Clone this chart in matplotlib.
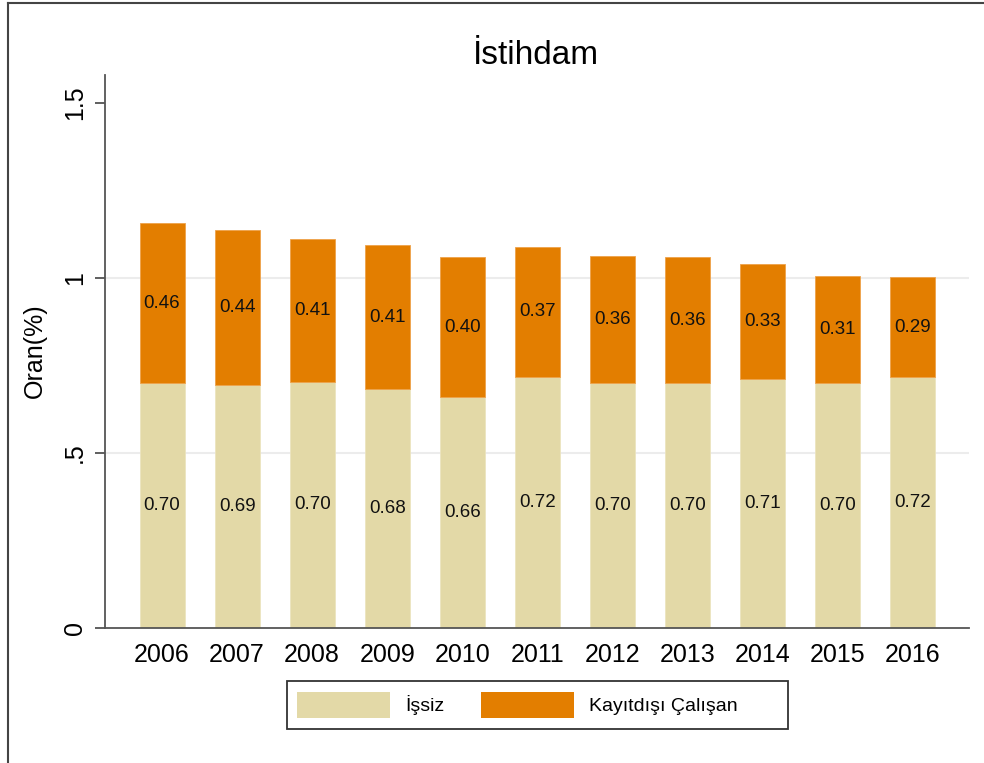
import matplotlib
matplotlib.use("Agg")
import matplotlib.pyplot as plt
from matplotlib.lines import Line2D
from matplotlib.patches import Patch, Rectangle
import numpy as np

plt.rcParams['font.family'] = ['Liberation Sans', 'DejaVu Sans']

years = ['2006', '2007', '2008', '2009', '2010', '2011', '2012', '2013', '2014', '2015', '2016']
issiz = [0.700, 0.693, 0.704, 0.683, 0.661, 0.716, 0.700, 0.700, 0.712, 0.700, 0.716]
kayitdisi = [0.457, 0.443, 0.407, 0.411, 0.398, 0.374, 0.364, 0.359, 0.329, 0.307, 0.287]
labels = ['İşsiz', 'Kayıtdışı Çalışan']
title = 'İstihdam'
ylabel = 'Oran(%)'
yticks = [0, 0.5, 1, 1.5]
yticklabels = ['0', '.5', '1', '1.5']

c_beige = '#e3d9a7'
c_orange = '#e37e00'

W, H = 984, 763
fig = plt.figure(figsize=(W / 100, H / 100), dpi=100)
ax = fig.add_axes([105 / W, 1 - 628 / H, (969 - 105) / W, (628 - 75) / H])

x = np.arange(len(years))
issiz_a = np.array(issiz)
kay_a = np.array(kayitdisi)
ax.bar(x, issiz_a, width=0.6, color=c_beige, edgecolor='#ece4bf', linewidth=0.6, zorder=2)
ax.bar(x, kay_a, width=0.6, bottom=issiz_a, color=c_orange, edgecolor='#eea24a', linewidth=0.6, zorder=2)

for xi, a, b in zip(x, issiz_a, kay_a):
    ax.text(xi, a / 2, f'{a:.2f}', ha='center', va='center', fontsize=13.5, color='#111111', zorder=3)
    ax.text(xi, a + b / 2, f'{b:.2f}', ha='center', va='center', fontsize=13.5, color='#111111', zorder=3)

ax.set_xlim(-0.76, 10.75)
ax.set_ylim(0, 1.58)
ax.set_xticks(x)
ax.set_xticklabels(years, fontsize=18)
ax.set_yticks(yticks)
ax.set_yticklabels(yticklabels, fontsize=18, rotation=90, va='center')
ax.tick_params(axis='x', length=0, pad=11)
ax.tick_params(axis='y', length=7, width=1.2, color='#444444', pad=6)

for y in [0.5, 1.0]:
    ax.axhline(y, color='#ececec', lw=1.5, zorder=1)

for s in ['top', 'right']:
    ax.spines[s].set_visible(False)
for s in ['left', 'bottom']:
    ax.spines[s].set_color('#555555')
    ax.spines[s].set_linewidth(1.3)

fig.text(35 / W, 1 - 351 / H, ylabel, rotation=90, ha='center', va='center', fontsize=18)
fig.text(536 / W, 1 - 64 / H, title, ha='center', va='baseline', fontsize=24)

# legend box
fig.add_artist(Rectangle((287 / W, 1 - 729 / H), (788 - 287) / W, (729 - 681) / H,
                         transform=fig.transFigure, facecolor='white', edgecolor='#333333', lw=1.3, zorder=1))
handles = [Patch(facecolor=c_beige), Patch(facecolor=c_orange)]
leg = fig.legend(handles, labels, ncol=2, loc='center left', bbox_to_anchor=(297 / W, 1 - 705 / H),
                 fontsize=14, handlelength=4.8, handleheight=1.75, handletextpad=0.75,
                 columnspacing=1.9, borderpad=0, borderaxespad=0, frameon=False)
leg.set_zorder(2)

# outer frame
fig.add_artist(Line2D([8 / W, 8 / W], [0, 1 - 3 / H], transform=fig.transFigure, color='#444444', lw=1.5))
fig.add_artist(Line2D([8 / W, 1], [1 - 3 / H, 1 - 3 / H], transform=fig.transFigure, color='#444444', lw=1.5))

fig.savefig('out.png', dpi=100)
